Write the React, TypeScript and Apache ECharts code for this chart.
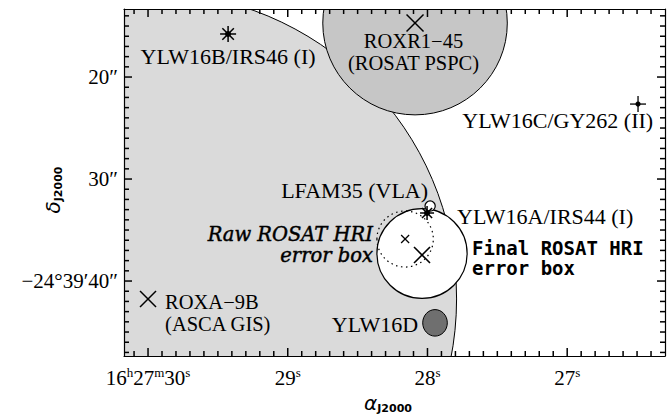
import React, { useEffect, useRef } from "react";
import * as echarts from "echarts";

// Right ascension in seconds of 16h27m; declination in arcsec of −24°39′ (south, grows downward)
const RA_RANGE = [26.3, 30.172];
const DEC_RANGE = [13.33, 47.35];
const RA_MAJOR = [27, 28, 29, 30];
const RA_MAJOR_LABELS = ["27^s", "28^s", "29^s", "16^h27^m30^s"];
const DEC_MAJOR = [20, 30, 40];
const DEC_MAJOR_LABELS = ["20″", "30″", "−24°39′40″"];
const ARCSEC_PER_RA_SEC = 13.63;

// error circles / blobs: [ra, dec, radiusX(arcsec), radiusY(arcsec)]
const ASCA_CIRCLE = [[30.0, 41.76, 30.1, 30.1]];
const PSPC_CIRCLE = [[28.089, 14.71, 9.0, 9.0]];
const FINAL_CIRCLE = [[28.039, 37.3, 4.4, 4.4]];
const RAW_CIRCLE = [[28.16, 35.88, 2.75, 2.75]];
const YLW16D_BLOB = [[27.946, 44.1, 1.2, 1.3]];
const LFAM35_CIRCLE = [[27.981, 32.65, 0.5, 0.5]];

// point sources: [ra, dec]
const STARS = [[29.427, 15.78], [28.003, 33.33]];
const CROSSES = [[28.089, 14.71], [30.0, 41.76], [28.039, 37.45], [28.16, 35.88]];
const PLUSES = [[26.493, 22.65]];

// annotation texts and their anchors [ra, dec]
const LABEL_TEXTS = [
  "YLW16B/IRS46 (I)",
  "ROXR1−45\n(ROSAT PSPC)",
  "YLW16C/GY262 (II)",
  "LFAM35 (VLA)",
  "YLW16A/IRS44 (I)",
  "Raw ROSAT HRI\nerror box",
  "Final ROSAT HRI\nerror box",
  "ROXA−9B\n(ASCA GIS)",
  "YLW16D",
];
const LABEL_ANCHORS = [
  [29.427, 17.94],
  [28.1, 17.55],
  [26.385, 24.22],
  [27.996, 31.08],
  [27.788, 33.63],
  [28.39, 36.42],
  [27.681, 37.75],
  [29.878, 43.09],
  [28.067, 44.31],
];

// styling (not data)
const LABEL_ALIGN = ["center", "center", "right", "right", "left", "right", "left", "left", "right"];
const LABEL_KIND = ["n", "n2", "n", "n", "n", "i", "b", "n2", "n"];
const STAR_HALF = [8, 7];
const CROSS_HALF = [8.5, 8, 8, 4];
const CROSS_WIDTH = [1.5, 1.5, 1.6, 1.2];

const SERIF = '"Liberation Serif", "Times New Roman", serif';
const FONTS: Record<string, string> = {
  n: `normal 22px ${SERIF}`,
  n2: `normal 20.5px ${SERIF}`,
  i: `italic normal 19.5px "DejaVu Serif", serif`,
  b: `bold 19px "DejaVu Sans Mono", monospace`,
};
const LINE_HEIGHTS: Record<string, number> = { n: 22, n2: 22, i: 21, b: 20.5 };
const STROKE_W: Record<string, number> = { n: 0, n2: 0, i: 0.45, b: 0 };

function ticksBetween(a: number, b: number, step: number) {
  const out: number[] = [];
  const n = Math.round((b - a) / step);
  for (let i = 0; i <= n; i++) out.push(Math.round((a + i * step) * 1000) / 1000);
  return out;
}
const RA_TICKS = ticksBetween(26.4, 30.1, 0.1);
const DEC_TICKS = ticksBetween(14, 47, 1);
const isMajor = (v: number, majors: number[]) => majors.some((m) => Math.abs(m - v) < 1e-6);

function raLabel(v: number) {
  const idx = RA_MAJOR.findIndex((t) => Math.abs(t - v) < 1e-6);
  if (idx < 0) return "";
  const parts = RA_MAJOR_LABELS[idx].split("^");
  let s = `{n|${parts[0]}}`;
  for (let i = 1; i < parts.length; i++) {
    s += `{u|${parts[i][0]}}`;
    if (parts[i].length > 1) s += `{n|${parts[i].slice(1)}}`;
  }
  return s;
}
function decLabel(v: number) {
  const idx = DEC_MAJOR.findIndex((t) => Math.abs(t - v) < 1e-6);
  return idx < 0 ? "" : DEC_MAJOR_LABELS[idx];
}

function ellipseSeries(data: number[][], fill: string, stroke: string, lineWidth: number, dash?: number[]) {
  return {
    type: "custom",
    xAxisIndex: 0,
    yAxisIndex: 0,
    clip: true,
    z: 2,
    silent: true,
    data,
    renderItem: (params: any, api: any) => {
      const ra = api.value(0);
      const dec = api.value(1);
      const c = api.coord([ra, dec]);
      const s = api.size([(2 * api.value(2)) / ARCSEC_PER_RA_SEC, 2 * api.value(3)], [ra, dec]);
      return {
        type: "ellipse",
        shape: { cx: c[0], cy: c[1], rx: s[0] / 2, ry: s[1] / 2 },
        style: { fill, stroke, lineWidth, lineDash: dash || null },
      };
    },
  };
}

const MAJOR_LEN = 8;
const MINOR_LEN = 5;

export default function App() {
  const ref = useRef<HTMLDivElement>(null);
  useEffect(() => {
    if (!ref.current) return;
    const chart = echarts.init(ref.current, null, { renderer: "svg" });
    const axisLine = { show: true, onZero: false, lineStyle: { color: "#000", width: 1.2 } };
    const subRich = {
      a: { fontFamily: '"DejaVu Sans", sans-serif', fontStyle: "italic", fontSize: 20, lineHeight: 22, fill: "#000" },
      b: { fontFamily: '"DejaVu Sans", sans-serif', fontSize: 11, fontWeight: "bold", lineHeight: 11, verticalAlign: "bottom", fill: "#000" },
    };
    const axisNames = [
      {
        id: "alpha",
        type: "text",
        x: 388,
        y: 403,
        z: 50,
        style: { text: "{a|α}{b|J2000}", align: "center", verticalAlign: "middle", textAlign: "center", textVerticalAlign: "middle", rich: subRich },
      },
      {
        id: "delta",
        type: "text",
        x: 53,
        y: 190,
        z: 50,
        rotation: Math.PI / 2,
        style: { text: "{a|δ}{b|J2000}", align: "center", verticalAlign: "middle", textAlign: "center", textVerticalAlign: "middle", rich: subRich },
      },
    ];
    const option: any = {
      animation: false,
      backgroundColor: "#fff",
      grid: { left: 124, top: 9, right: 5, bottom: 62, containLabel: false },
      xAxis: [
        {
          type: "value",
          min: RA_RANGE[0],
          max: RA_RANGE[1],
          inverse: true,
          z: 20,
          position: "bottom",
          splitLine: { show: false },
          axisLine,
          axisTick: { show: false },
          axisLabel: {
            show: true,
            customValues: RA_MAJOR,
            margin: 10,
            formatter: raLabel,
            color: "#000",
            rich: {
              n: { fontFamily: SERIF, fontSize: 21, lineHeight: 24, color: "#000" },
              u: { fontFamily: SERIF, fontSize: 13, lineHeight: 13, verticalAlign: "top", color: "#000" },
            },
          },
        },
        {
          type: "value",
          min: RA_RANGE[0],
          max: RA_RANGE[1],
          inverse: true,
          z: 20,
          position: "top",
          splitLine: { show: false },
          axisLine,
          axisTick: { show: false },
          axisLabel: { show: false },
        },
      ],
      yAxis: [
        {
          type: "value",
          min: DEC_RANGE[0],
          max: DEC_RANGE[1],
          inverse: true,
          z: 20,
          position: "left",
          splitLine: { show: false },
          axisLine,
          axisTick: { show: false },
          axisLabel: {
            show: true,
            customValues: DEC_MAJOR,
            margin: 6,
            formatter: decLabel,
            color: "#000",
            fontFamily: SERIF,
            fontSize: 21,
          },
        },
        {
          type: "value",
          min: DEC_RANGE[0],
          max: DEC_RANGE[1],
          inverse: true,
          z: 20,
          position: "right",
          splitLine: { show: false },
          axisLine,
          axisTick: { show: false },
          axisLabel: { show: false },
        },
      ],
      graphic: { elements: axisNames },
      series: [
        ellipseSeries(ASCA_CIRCLE, "#dadada", "#000", 1),
        ellipseSeries(PSPC_CIRCLE, "#c6c6c6", "#000", 1),
        ellipseSeries(FINAL_CIRCLE, "#ffffff", "#000", 1.2),
        ellipseSeries(RAW_CIRCLE, "none", "#000", 1.2, [1.5, 3.5]),
        ellipseSeries(YLW16D_BLOB, "#6f6f6f", "#000", 1),
        ellipseSeries(LFAM35_CIRCLE, "#ffffff", "#000", 1.2),
        {
          type: "custom",
          xAxisIndex: 0,
          yAxisIndex: 0,
          z: 3,
          data: STARS,
          renderItem: (params: any, api: any) => {
            const c = api.coord([api.value(0), api.value(1)]);
            const h = STAR_HALF[params.dataIndex];
            const d = h * 0.72;
            const st = { stroke: "#000", lineWidth: 1.5 };
            return {
              type: "group",
              children: [
                { type: "line", shape: { x1: c[0] - h, y1: c[1], x2: c[0] + h, y2: c[1] }, style: st },
                { type: "line", shape: { x1: c[0], y1: c[1] - h, x2: c[0], y2: c[1] + h }, style: st },
                { type: "line", shape: { x1: c[0] - d, y1: c[1] - d, x2: c[0] + d, y2: c[1] + d }, style: st },
                { type: "line", shape: { x1: c[0] - d, y1: c[1] + d, x2: c[0] + d, y2: c[1] - d }, style: st },
                { type: "circle", shape: { cx: c[0], cy: c[1], r: 3 }, style: { fill: "#000" } },
              ],
            };
          },
        },
        {
          type: "custom",
          xAxisIndex: 0,
          yAxisIndex: 0,
          z: 3,
          data: CROSSES,
          renderItem: (params: any, api: any) => {
            const c = api.coord([api.value(0), api.value(1)]);
            const h = CROSS_HALF[params.dataIndex];
            const st = { stroke: "#000", lineWidth: CROSS_WIDTH[params.dataIndex] };
            return {
              type: "group",
              children: [
                { type: "line", shape: { x1: c[0] - h, y1: c[1] - h, x2: c[0] + h, y2: c[1] + h }, style: st },
                { type: "line", shape: { x1: c[0] - h, y1: c[1] + h, x2: c[0] + h, y2: c[1] - h }, style: st },
              ],
            };
          },
        },
        {
          type: "custom",
          xAxisIndex: 0,
          yAxisIndex: 0,
          z: 3,
          data: PLUSES,
          renderItem: (params: any, api: any) => {
            const c = api.coord([api.value(0), api.value(1)]);
            const h = 8;
            const st = { stroke: "#000", lineWidth: 1.3 };
            return {
              type: "group",
              children: [
                { type: "line", shape: { x1: c[0] - h, y1: c[1], x2: c[0] + h, y2: c[1] }, style: st },
                { type: "line", shape: { x1: c[0], y1: c[1] - h, x2: c[0], y2: c[1] + h }, style: st },
                { type: "circle", shape: { cx: c[0], cy: c[1], r: 2.6 }, style: { fill: "#000" } },
              ],
            };
          },
        },
        {
          type: "custom",
          xAxisIndex: 0,
          yAxisIndex: 0,
          z: 4,
          data: LABEL_ANCHORS,
          renderItem: (params: any, api: any) => {
            const i = params.dataIndex;
            const c = api.coord([api.value(0), api.value(1)]);
            const kind = LABEL_KIND[i];
            const sw = STROKE_W[kind];
            return {
              type: "text",
              x: c[0],
              y: c[1],
              style: {
                text: LABEL_TEXTS[i],
                font: FONTS[kind],
                lineHeight: LINE_HEIGHTS[kind],
                fill: "#000",
                stroke: sw ? "#000" : null,
                lineWidth: sw,
                align: LABEL_ALIGN[i],
                verticalAlign: "middle",
                textAlign: LABEL_ALIGN[i],
                textVerticalAlign: "middle",
              },
            };
          },
        },
      ],
    };
    chart.setOption(option);

    // Tick marks pointing inward on all four sides, positioned through the chart's own scales
    const toPx = (ra: number, dec: number) =>
      chart.convertToPixel({ gridIndex: 0 } as any, [ra, dec]) as number[];
    const top = toPx(RA_RANGE[0], DEC_RANGE[0])[1];
    const bottom = toPx(RA_RANGE[0], DEC_RANGE[1])[1];
    const right = toPx(RA_RANGE[0], DEC_RANGE[0])[0];
    const left = toPx(RA_RANGE[1], DEC_RANGE[0])[0];
    const tickStyle = { stroke: "#000", lineWidth: 1.5 };
    const ticks: any[] = [];
    RA_TICKS.forEach((v, k) => {
      const x = toPx(v, DEC_RANGE[0])[0];
      const len = isMajor(v, RA_MAJOR) ? MAJOR_LEN : MINOR_LEN;
      ticks.push({ id: `rb${k}`, type: "line", z: 40, shape: { x1: x, y1: bottom, x2: x, y2: bottom - len }, style: tickStyle });
      ticks.push({ id: `rt${k}`, type: "line", z: 40, shape: { x1: x, y1: top, x2: x, y2: top + len }, style: tickStyle });
    });
    DEC_TICKS.forEach((v, k) => {
      const y = toPx(RA_RANGE[0], v)[1];
      const len = isMajor(v, DEC_MAJOR) ? MAJOR_LEN : MINOR_LEN;
      ticks.push({ id: `dl${k}`, type: "line", z: 40, shape: { x1: left, y1: y, x2: left + len, y2: y }, style: tickStyle });
      ticks.push({ id: `dr${k}`, type: "line", z: 40, shape: { x1: right, y1: y, x2: right - len, y2: y }, style: tickStyle });
    });
    chart.setOption({ graphic: { elements: [...axisNames, ...ticks] } });

    return () => chart.dispose();
  }, []);
  return (
    <div
      ref={ref}
      style={{ position: "absolute", left: 0, top: 0, width: 670, height: 418, background: "#fff" }}
    />
  );
}
